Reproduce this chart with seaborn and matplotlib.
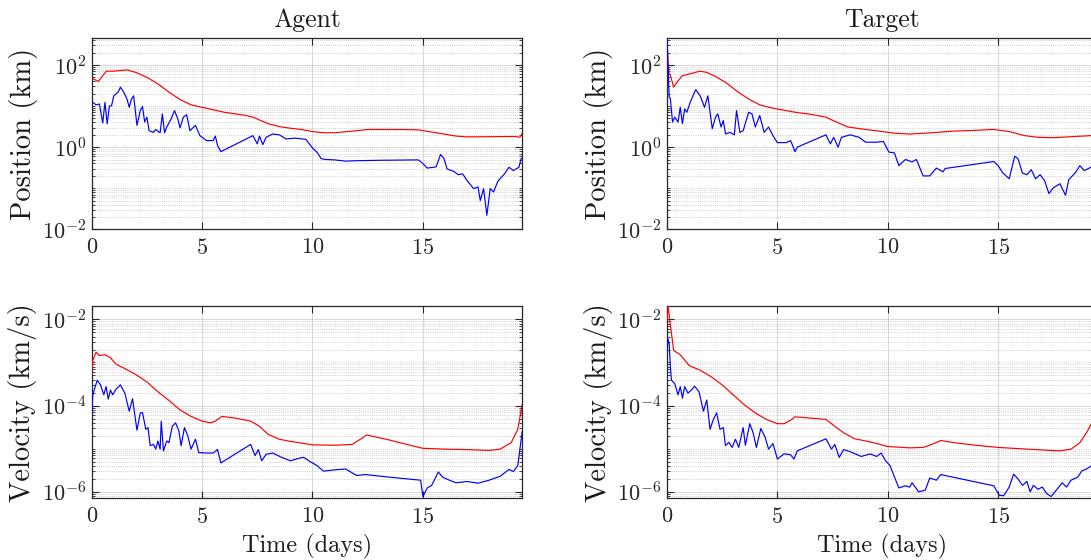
import numpy as np
import pandas as pd
import matplotlib
matplotlib.use("Agg")
import matplotlib.pyplot as plt
from matplotlib.ticker import FixedLocator, LogLocator, MultipleLocator, NullFormatter, LogFormatterSciNotation
import seaborn as sns

# ---------------------------------------------------------------------------
# Data: time in days, magnitudes given as log10 exponents (km and km/s)
# ---------------------------------------------------------------------------
agent_pos_bound_t = [0, 0.3, 0.66, 1.0, 1.6, 2.0, 2.5, 3.0, 3.5, 4.0, 4.5, 5.0, 6.0, 7.0, 7.3,
                     8.0, 8.5, 9.0, 9.5, 10.0, 10.5, 11.0, 12.0, 12.5, 14.0, 14.8, 15.5, 16.5,
                     17.0, 19.2, 19.4, 19.5]
agent_pos_bound_exp = [1.68, 1.60, 1.85, 1.85, 1.88, 1.82, 1.70, 1.54, 1.34, 1.16, 1.03, 0.97,
                       0.85, 0.77, 0.73, 0.57, 0.50, 0.46, 0.43, 0.38, 0.35, 0.35, 0.40, 0.43,
                       0.43, 0.42, 0.36, 0.27, 0.25, 0.26, 0.24, 0.34]

agent_pos_err_t = [0, 0.2, 0.35, 0.5, 0.6, 0.7, 0.8, 0.9, 1.0, 1.2, 1.3, 1.45, 1.6, 1.7, 1.8,
                   1.9, 2.05, 2.2, 2.3, 2.4, 2.5, 2.6, 2.8, 2.9, 3.1, 3.2, 3.3, 3.4, 3.6, 3.75,
                   3.9, 4.0, 4.15, 4.3, 4.45, 4.7, 4.9, 5.2, 5.5, 5.6, 5.7, 5.85, 7.3, 7.5, 7.6,
                   7.75, 7.9, 8.2, 8.5, 8.8, 9.2, 9.7, 10.0, 10.2, 10.4, 10.6, 11.0, 11.5, 12.0,
                   13.0, 14.8, 15.0, 15.2, 15.6, 15.8, 15.95, 16.1, 16.4, 16.6, 16.8, 17.0,
                   17.3, 17.5, 17.6, 17.75, 17.9, 18.05, 18.2, 18.4, 18.7, 18.9, 19.1, 19.35,
                   19.45, 19.5]
agent_pos_err_exp = [1.11, 1.03, 1.05, 0.59, 1.09, 0.57, 1.00, 1.01, 1.25, 1.34, 1.46, 1.34,
                     1.17, 0.97, 1.17, 1.25, 0.53, 0.89, 0.99, 0.61, 0.73, 0.40, 0.36, 0.43,
                     0.35, 0.81, 0.35, 0.49, 0.69, 0.89, 0.69, 0.47, 0.73, 0.79, 0.40, 0.53,
                     0.28, 0.16, 0.16, 0.27, 0.04, -0.11, 0.28, 0.08, 0.27, 0.06, 0.24, 0.32,
                     0.30, 0.20, 0.22, 0.19, -0.02, -0.12, -0.28, -0.30, -0.31, -0.34, -0.33,
                     -0.32, -0.31, -0.40, -0.51, -0.48, -0.18, -0.27, -0.53, -0.59, -0.67,
                     -0.65, -0.81, -1.01, -0.97, -1.30, -1.01, -1.66, -1.01, -1.09, -0.83,
                     -0.65, -0.49, -0.57, -0.49, -0.28, -0.27]

target_pos_bound_t = [0, 0.05, 0.1, 0.15, 0.3, 0.45, 0.7, 1.0, 1.5, 1.8, 2.2, 2.7, 3.2, 3.7,
                      4.2, 4.7, 5.2, 5.8, 6.5, 7.2, 7.6, 8.2, 9.0, 9.6, 10.3, 11.0, 12.0, 13.0,
                      14.0, 14.8, 15.5, 16.2, 16.8, 17.5, 18.5, 19.2, 19.5]
target_pos_bound_exp = [2.65, 1.98, 1.78, 1.76, 1.46, 1.58, 1.74, 1.78, 1.85, 1.82, 1.72, 1.56,
                        1.35, 1.17, 1.03, 0.96, 0.91, 0.85, 0.80, 0.73, 0.63, 0.49, 0.43, 0.39,
                        0.34, 0.32, 0.35, 0.39, 0.41, 0.43, 0.38, 0.28, 0.24, 0.23, 0.26, 0.28,
                        0.33]

target_pos_err_t = [0, 0.05, 0.1, 0.15, 0.25, 0.35, 0.5, 0.6, 0.7, 0.8, 0.9, 1.05, 1.3, 1.5,
                    1.7, 1.85, 2.05, 2.2, 2.3, 2.45, 2.55, 2.65, 2.85, 3.05, 3.15, 3.3, 3.45,
                    3.7, 3.85, 4.0, 4.2, 4.4, 4.6, 4.8, 5.0, 5.4, 5.6, 5.8, 5.9, 7.2, 7.4, 7.55,
                    7.75, 7.9, 8.3, 8.7, 9.0, 9.5, 9.8, 10.05, 10.3, 10.5, 10.8, 11.1, 11.3,
                    11.6, 11.9, 12.2, 12.5, 12.6, 14.8, 15.0, 15.2, 15.5, 15.75, 15.9, 16.1,
                    16.3, 16.5, 16.7, 16.9, 17.1, 17.3, 17.5, 17.8, 18.05, 18.2, 18.5, 18.7,
                    18.9, 19.2, 19.5]
target_pos_err_exp = [2.63, 1.98, 1.21, 1.19, 0.61, 0.73, 0.61, 0.97, 0.57, 0.93, 0.85, 1.09,
                      1.40, 1.25, 0.97, 1.25, 0.45, 0.73, 0.81, 0.49, 0.65, 0.32, 0.36, 0.30,
                      0.89, 0.36, 0.40, 0.85, 0.81, 0.49, 0.77, 0.36, 0.49, 0.28, 0.11, 0.11,
                      0.16, -0.11, 0.00, 0.30, 0.08, 0.24, 0.00, 0.24, 0.30, 0.24, 0.12, 0.12,
                      0.14, -0.12, -0.14, -0.45, -0.30, -0.36, -0.30, -0.70, -0.70, -0.51,
                      -0.60, -0.52, -0.35, -0.45, -0.62, -0.77, -0.22, -0.28, -0.63, -0.67,
                      -0.55, -0.77, -0.67, -0.81, -1.13, -0.99, -0.89, -1.17, -0.79, -0.62,
                      -0.45, -0.57, -0.49, -0.45]

agent_vel_bound_t = [0, 0.05, 0.2, 0.35, 0.6, 0.85, 1.1, 1.5, 2.0, 2.5, 3.0, 3.5, 4.0, 4.5, 5.0,
                     5.4, 5.6, 5.9, 6.5, 7.2, 7.6, 8.0, 8.5, 9.0, 10.0, 11.0, 11.8, 12.2, 12.45,
                     13.5, 14.5, 15.0, 16.0, 17.0, 18.0, 18.5, 19.0, 19.3, 19.5]
agent_vel_bound_exp = [-3.30, -2.95, -2.76, -2.84, -2.82, -2.89, -3.04, -3.14, -3.28, -3.45,
                       -3.68, -3.88, -4.10, -4.25, -4.36, -4.40, -4.36, -4.25, -4.29, -4.36,
                       -4.48, -4.67, -4.78, -4.83, -4.91, -4.92, -4.90, -4.77, -4.68, -4.80,
                       -4.93, -4.99, -5.01, -5.02, -5.04, -5.01, -4.86, -4.55, -3.98]

agent_vel_err_t = [0, 0.05, 0.25, 0.4, 0.55, 0.65, 0.75, 0.85, 0.95, 1.1, 1.3, 1.5, 1.7, 1.85,
                   2.05, 2.2, 2.3, 2.45, 2.55, 2.65, 2.8, 2.9, 3.0, 3.1, 3.15, 3.25, 3.4, 3.5,
                   3.65, 3.8, 3.95, 4.05, 4.2, 4.35, 4.5, 4.7, 4.85, 5.2, 5.5, 5.7, 5.85, 7.2,
                   7.4, 7.55, 7.7, 7.9, 8.2, 8.6, 9.0, 9.4, 9.6, 9.9, 10.2, 10.5, 11.0, 11.5,
                   12.0, 12.4, 13.5, 14.9, 15.0, 15.2, 15.4, 15.7, 15.9, 16.2, 16.5, 17.0,
                   17.5, 18.0, 18.5, 18.9, 19.1, 19.3, 19.5]
agent_vel_err_exp = [-4.17, -3.75, -3.41, -3.52, -3.75, -3.56, -3.85, -3.64, -3.75, -3.62,
                     -3.52, -3.71, -4.13, -3.84, -4.57, -4.17, -4.16, -4.55, -4.51, -4.93,
                     -4.90, -5.01, -4.82, -5.01, -4.36, -5.05, -4.82, -4.86, -4.48, -4.40,
                     -4.59, -4.93, -4.51, -4.70, -5.01, -4.78, -5.09, -5.10, -5.10, -5.02,
                     -5.33, -4.90, -5.16, -5.02, -5.28, -5.13, -5.10, -5.20, -5.28, -5.22,
                     -5.20, -5.30, -5.39, -5.52, -5.49, -5.47, -5.62, -5.60, -5.66, -5.73,
                     -6.11, -5.91, -5.85, -5.54, -5.66, -5.73, -5.79, -5.76, -5.80, -5.73,
                     -5.64, -5.48, -5.53, -5.39, -4.60]

target_vel_bound_t = [0, 0.05, 0.15, 0.3, 0.6, 1.0, 1.5, 2.0, 2.5, 3.0, 3.5, 4.0, 4.5, 5.0, 5.3,
                      5.6, 5.8, 7.2, 7.6, 8.0, 8.5, 9.0, 9.5, 10.0, 11.0, 11.6, 12.0, 12.4,
                      13.0, 14.0, 15.0, 16.0, 17.0, 17.8, 18.3, 18.7, 19.0, 19.25, 19.5]
target_vel_bound_exp = [-2.04, -1.69, -2.11, -2.72, -2.82, -3.07, -3.18, -3.33, -3.52, -3.75,
                        -3.98, -4.17, -4.32, -4.42, -4.42, -4.34, -4.26, -4.32, -4.48, -4.63,
                        -4.77, -4.82, -4.88, -4.95, -4.98, -4.97, -4.90, -4.81, -4.86, -4.92,
                        -4.97, -5.00, -5.03, -5.05, -5.01, -4.86, -4.63, -4.40, -3.95]

target_vel_err_t = [0, 0.05, 0.1, 0.15, 0.2, 0.35, 0.5, 0.6, 0.7, 0.8, 0.95, 1.1, 1.25, 1.45,
                    1.65, 1.8, 1.95, 2.1, 2.25, 2.4, 2.55, 2.65, 2.8, 2.95, 3.1, 3.25, 3.45,
                    3.55, 3.75, 3.9, 4.05, 4.25, 4.45, 4.6, 4.8, 5.0, 5.3, 5.6, 5.75, 5.9, 7.2,
                    7.45, 7.6, 7.8, 8.0, 8.3, 8.8, 9.2, 9.5, 9.7, 9.9, 10.1, 10.5, 10.8, 11.0,
                    11.1, 11.4, 11.7, 11.9, 12.2, 12.4, 14.8, 15.05, 15.25, 15.5, 15.7, 15.9,
                    16.1, 16.3, 16.45, 16.6, 16.8, 17.0, 17.2, 17.4, 17.7, 17.9, 18.1, 18.3,
                    18.6, 18.8, 19.0, 19.25, 19.5]
target_vel_err_exp = [-2.72, -2.46, -2.57, -3.07, -3.41, -3.49, -3.75, -3.56, -3.83, -3.56,
                      -3.71, -3.64, -3.55, -3.68, -4.13, -3.87, -4.55, -4.32, -4.17, -4.55,
                      -4.51, -4.93, -4.85, -4.97, -4.78, -4.97, -4.51, -4.92, -4.42, -4.63,
                      -4.97, -4.53, -4.74, -5.01, -4.88, -5.24, -5.12, -5.14, -5.24, -5.05,
                      -4.77, -5.01, -4.90, -5.20, -5.02, -5.07, -5.18, -5.12, -5.18, -5.10,
                      -5.28, -5.39, -5.91, -5.86, -5.89, -5.79, -6.00, -5.96, -5.68, -5.73,
                      -5.60, -5.86, -6.08, -6.09, -5.89, -5.59, -5.70, -5.85, -5.76, -6.00,
                      -5.85, -5.94, -5.89, -6.04, -6.11, -5.92, -5.79, -5.89, -5.73, -5.66,
                      -5.51, -5.47, -5.39, -5.25]

column_titles = ["Agent", "Target"]
row_labels = ["Position (km)", "Velocity (km/s)"]
x_label = "Time (days)"

# ---------------------------------------------------------------------------
# Style
# ---------------------------------------------------------------------------
sns.set_theme(style="white")
plt.rcParams.update({
    "font.family": "serif",
    "font.serif": ["cmr10"],
    "mathtext.fontset": "cm",
    "axes.formatter.use_mathtext": True,
    "axes.unicode_minus": True,
    "axes.edgecolor": "#262626",
    "axes.linewidth": 0.9,
    "xtick.color": "#262626",
    "ytick.color": "#262626",
    "xtick.labelcolor": "#262626",
    "ytick.labelcolor": "#262626",
    "text.color": "#1a1a1a",
    "axes.labelcolor": "#1a1a1a",
})

BOUND_COLOR = "#ff0000"
ERR_COLOR = "#0000ff"
W, H = 1091, 560

fig = plt.figure(figsize=(W / 100, H / 100), dpi=100)

col_left = [91.7, 667.0]
col_width = 430.5
row_top = [38.3, 306.0]
row_height = [191.0, 192.3]

series = {
    (0, 0): (agent_pos_bound_t, agent_pos_bound_exp, agent_pos_err_t, agent_pos_err_exp),
    (0, 1): (target_pos_bound_t, target_pos_bound_exp, target_pos_err_t, target_pos_err_exp),
    (1, 0): (agent_vel_bound_t, agent_vel_bound_exp, agent_vel_err_t, agent_vel_err_exp),
    (1, 1): (target_vel_bound_t, target_vel_bound_exp, target_vel_err_t, target_vel_err_exp),
}
ylims = [(1e-2, 10 ** 2.65), (10 ** -6.15, 10 ** -1.69)]
y_majors = [[1e-2, 1e0, 1e2], [1e-6, 1e-4, 1e-2]]

for (r, c), (bt, be, et, ee) in series.items():
    left = col_left[c] / W
    bottom = 1 - (row_top[r] + row_height[r]) / H
    ax = fig.add_axes([left, bottom, col_width / W, row_height[r] / H])

    bound = pd.DataFrame({"t": bt, "v": 10.0 ** np.asarray(be)})
    err = pd.DataFrame({"t": et, "v": 10.0 ** np.asarray(ee)})
    sns.lineplot(data=bound, x="t", y="v", ax=ax, color=BOUND_COLOR, lw=0.85,
                 estimator=None, sort=False, zorder=3)
    sns.lineplot(data=err, x="t", y="v", ax=ax, color=ERR_COLOR, lw=0.85,
                 estimator=None, sort=False, zorder=3)

    ax.set_yscale("log")
    ax.set_xlim(0, 19.5)
    ax.set_ylim(*ylims[r])

    ax.xaxis.set_major_locator(MultipleLocator(5))
    ax.yaxis.set_major_locator(FixedLocator(y_majors[r]))
    ax.yaxis.set_major_formatter(LogFormatterSciNotation())
    ax.yaxis.set_minor_locator(LogLocator(base=10, subs=np.arange(1, 10), numticks=100))
    ax.yaxis.set_minor_formatter(NullFormatter())

    ax.grid(which="major", axis="both", color="#000000", alpha=0.15, lw=0.7, linestyle="-")
    ax.grid(which="minor", axis="y", color="#000000", alpha=0.25, lw=0.6,
            linestyle=(0, (1, 1.6)))
    ax.set_axisbelow(True)

    ax.tick_params(which="both", direction="in", top=True, right=True,
                   bottom=True, left=True)
    ax.tick_params(which="major", length=5, width=0.8, labelsize=16)
    ax.tick_params(which="minor", length=2.5, width=0.6)
    ax.tick_params(axis="x", which="major", pad=6)
    ax.tick_params(axis="y", which="major", pad=4)

    ax.set_ylabel(row_labels[r], fontsize=20.5, labelpad=3)
    if r == 0:
        ax.set_title(column_titles[c], fontsize=18.5, pad=8)
        ax.set_xlabel("")
    else:
        ax.set_xlabel(x_label, fontsize=17.5, labelpad=5)

fig.savefig("out.png", dpi=100)
